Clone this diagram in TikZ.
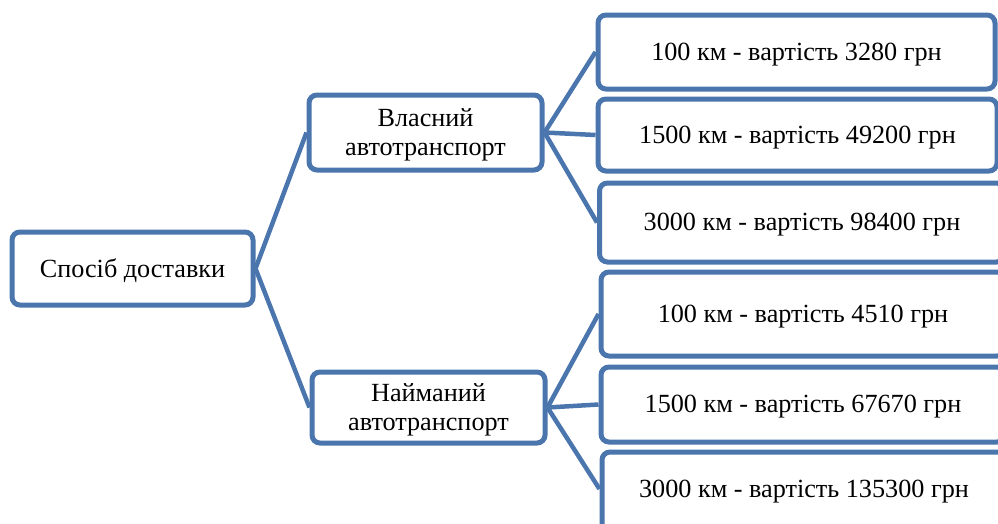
\documentclass[tikz,border=0pt]{standalone}
\usepackage{fontspec}
\setmainfont{Liberation Serif}
\definecolor{boxblue}{RGB}{74,117,173}
\begin{document}
\begin{tikzpicture}[x=1pt,y=-1pt,
  box/.style={draw=boxblue, line width=5pt, rounded corners=8pt, fill=white,
    inner sep=0pt},
  txt/.style={inner sep=0pt, align=center, font=\fontsize{26.2}{29}\selectfont},
  conn/.style={draw=boxblue, line width=4.5pt}]
\useasboundingbox (0,0) rectangle (998,523);
\node[box, minimum width=241pt, minimum height=73pt] (root) at (132.5,268.5) {};
\node[box, minimum width=233pt, minimum height=75pt] (vl) at (425.5,132.5) {};
\node[box, minimum width=233pt, minimum height=71pt] (nm) at (428.5,407.5) {};
\node[box, minimum width=397pt, minimum height=74pt] (b1) at (796.5,52) {};
\node[box, minimum width=399pt, minimum height=72pt] (b2) at (797.5,135) {};
\node[box, minimum width=405pt, minimum height=79pt] (b3) at (802,222.5) {};
\node[box, minimum width=404pt, minimum height=84pt] (b4) at (803,314) {};
\node[box, minimum width=404pt, minimum height=75pt] (b5) at (803,404.5) {};
\node[box, minimum width=404pt, minimum height=84pt] (b6) at (804,494) {};
\node[txt] (troot) at ([yshift=-2.5pt]root.center) {Спосіб доставки};
\node[txt] (tvl) at ([yshift=-2.5pt]vl.center) {Власний\\автотранспорт};
\node[txt] (tnm) at ([yshift=-2.5pt]nm.center) {Найманий\\автотранспорт};
\node[txt] (t1) at ([yshift=-2.5pt]b1.center) {100 км - вартість 3280 грн};
\node[txt] (t2) at ([yshift=-2.5pt]b2.center) {1500 км - вартість 49200 грн};
\node[txt] (t3) at ([yshift=-2.5pt]b3.center) {3000 км - вартість 98400 грн};
\node[txt] (t4) at ([yshift=-2.5pt]b4.center) {100 км - вартість 4510 грн};
\node[txt] (t5) at ([yshift=-2.5pt]b5.center) {1500 км - вартість 67670 грн};
\node[txt] (t6) at ([yshift=2.5pt]b6.center) {3000 км - вартість 135300 грн};
\draw[conn] (root.east) -- (vl.west);
\draw[conn] (root.east) -- (nm.west);
\draw[conn] (vl.east) -- (b1.west);
\draw[conn] (vl.east) -- (b2.west);
\draw[conn] (vl.east) -- (b3.west);
\draw[conn] (nm.east) -- (b4.west);
\draw[conn] (nm.east) -- (b5.west);
\draw[conn] (nm.east) -- ([yshift=5pt]b6.west);
\end{tikzpicture}
\end{document}
